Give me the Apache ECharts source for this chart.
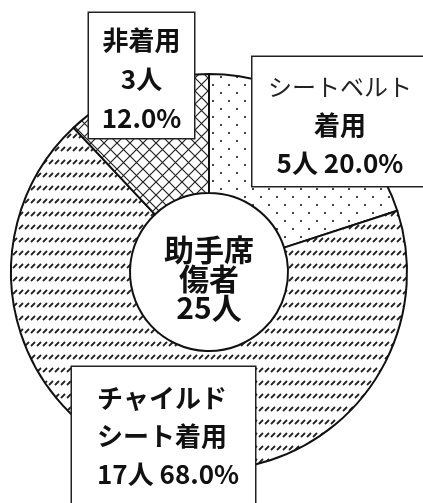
<!DOCTYPE html>
<html>
<head>
<meta charset="utf-8">
<script src="https://cdn.jsdelivr.net/npm/echarts@6/dist/echarts.min.js"></script>
<style>
  html, body { margin: 0; padding: 0; background: #fff; }
  #chart { width: 423px; height: 503px; }
</style>
</head>
<body>
<div id="chart"></div>
<script>
// data
const categories = ['シートベルト着用', 'チャイルドシート着用', '非着用']
const values = [5, 17, 3]
const labelNames = [['シートベルト', '着用'], ['チャイルド', 'シート着用'], ['非着用']]
const centerTitle = ['助手席', '傷者']
const unit = '人'

const total = values.reduce((a, b) => a + b, 0)
const FONT = '"Noto Sans CJK JP", "Noto Sans", sans-serif'

// fill patterns
function makePattern(w, h, draw) {
  const c = document.createElement('canvas')
  c.width = w
  c.height = h
  const ctx = c.getContext('2d')
  ctx.fillStyle = '#fff'
  ctx.fillRect(0, 0, w, h)
  draw(ctx)
  return { image: c, repeat: 'repeat' }
}
const dots = makePattern(16, 16, ctx => {
  ctx.fillStyle = '#444'
  ctx.fillRect(4, 4, 2, 2)
  ctx.fillRect(12, 12, 2, 2)
})
const slashes = makePattern(6, 13, ctx => {
  ctx.strokeStyle = '#222'
  ctx.lineWidth = 1.8
  ctx.beginPath()
  ctx.moveTo(1, 8)
  ctx.lineTo(5, 4)
  ctx.stroke()
})
const cross = makePattern(13, 13, ctx => {
  ctx.strokeStyle = '#222'
  ctx.lineWidth = 1.2
  ctx.beginPath()
  ctx.moveTo(0, 0); ctx.lineTo(13, 13)
  ctx.moveTo(13, 0); ctx.lineTo(0, 13)
  ctx.stroke()
})
const fills = [dots, slashes, cross]

// label boxes (layout only)
const boxes = [
  { x: 340, y: 57, align: 'center', width: 175, padding: [11, 0, 4, 0] },
  { x: 72, y: 367, align: 'left', width: 158, padding: [12, 0, 30, 25] },
  { x: 141.5, y: 13, align: 'center', width: 105, padding: [8, 0, 0, 0] }
]

function labelText(i) {
  const pct = (values[i] / total * 100).toFixed(1) + '%'
  const names = labelNames[i]
  if (i === 0) return ['{n|' + names[0] + '}', '{b|' + names[1] + '}', '{b|' + values[i] + unit + ' ' + pct + '}'].join('\n')
  if (i === 1) return ['{b|' + names[0] + '}', '{b|' + names[1] + '}', '{b|' + values[i] + unit + ' ' + pct + '}'].join('\n')
  return ['{b|' + names[0] + '}', '{b|' + values[i] + unit + '}', '{b|' + pct + '}'].join('\n')
}

const chart = echarts.init(document.getElementById('chart'), null, { renderer: 'canvas' })

const option = {
  animation: false,
  backgroundColor: '#fff',
  graphic: [{
    type: 'text',
    x: 209,
    y: 279,
    style: {
      text: centerTitle.concat([total + unit]).join('\n'),
      font: 'bold 30px ' + FONT,
      lineHeight: 29,
      fill: '#111',
      align: 'center',
      verticalAlign: 'middle'
    }
  }],
  series: [{
    type: 'pie',
    center: [209, 272],
    radius: [79, 198],
    startAngle: 90,
    clockwise: true,
    avoidLabelOverlap: false,
    labelLine: { show: false },
    itemStyle: { borderColor: '#111', borderWidth: 2 },
    emphasis: { disabled: true },
    data: categories.map((name, i) => ({
      name: name,
      value: values[i],
      itemStyle: { color: fills[i] },
      label: {
        show: true,
        formatter: labelText(i),
        backgroundColor: '#fff',
        borderColor: '#222',
        borderWidth: 1.5,
        width: boxes[i].width,
        padding: boxes[i].padding,
        align: boxes[i].align,
        rich: {
          b: { fontFamily: FONT, fontWeight: 'bold', fontSize: 26, lineHeight: i === 2 ? 39 : 38, color: '#111', align: boxes[i].align },
          n: { fontFamily: FONT, fontWeight: 'normal', fontSize: 24, lineHeight: 38, color: '#222', align: boxes[i].align }
        }
      }
    })),
    labelLayout: params => {
      const b = boxes[params.dataIndex]
      return { x: b.x, y: b.y, align: b.align, verticalAlign: 'top' }
    }
  }]
}
chart.setOption(option)
</script>
</body>
</html>
